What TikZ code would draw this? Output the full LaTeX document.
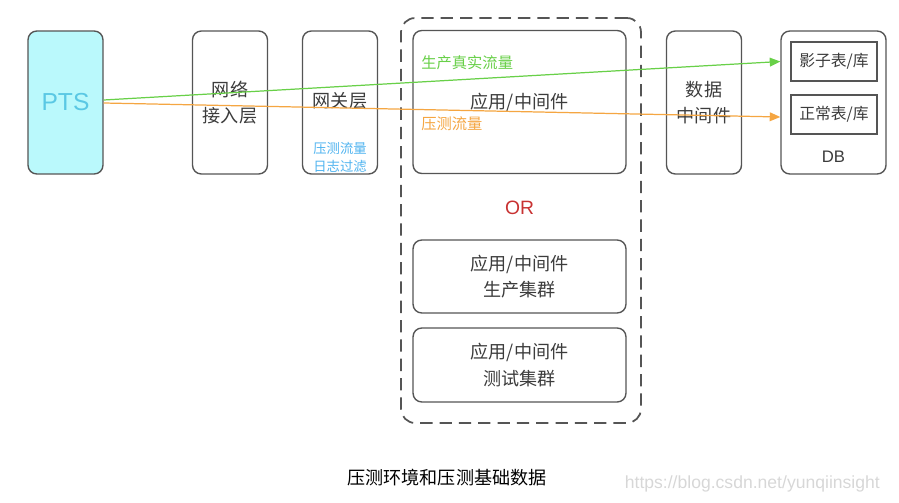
\documentclass[tikz,border=0pt]{standalone}
\usepackage{fontspec}
\setmainfont{Noto Sans CJK SC}
\newfontfamily\latinsans{Liberation Sans}
\usepackage{tikz}
\usetikzlibrary{arrows.meta, positioning, calc}
\definecolor{BoxLine}{RGB}{85, 85, 85}
\definecolor{TextGray}{RGB}{60, 60, 60}
\definecolor{PtsFill}{RGB}{186, 249, 252}
\definecolor{PtsText}{RGB}{90, 200, 228}
\definecolor{TipBlue}{RGB}{80, 180, 240}
\definecolor{RealGreen}{RGB}{104, 208, 72}
\definecolor{TestOrange}{RGB}{245, 166, 66}
\definecolor{OrRed}{RGB}{200, 50, 50}
\definecolor{MarkGray}{RGB}{215, 215, 215}
\tikzset{
  layer/.style={rectangle, rounded corners=5pt, draw=BoxLine, line width=0.8pt,
    fill=white, minimum width=1.5cm, minimum height=2.86cm, align=center,
    font=\fontsize{10.3}{15}\selectfont, text=TextGray, inner sep=0pt},
  appbox/.style={layer, minimum width=4.26cm},
  tablebox/.style={rectangle, draw=BoxLine, line width=0.8pt, fill=white,
    minimum width=1.72cm, minimum height=0.78cm, font=\fontsize{9}{10}\selectfont,
    text=TextGray, inner sep=0pt},
  flow/.style={-{Triangle[length=6pt,width=5pt]}, line width=0.7pt},
  flowlabel/.style={anchor=west, font=\fontsize{8.7}{10}\selectfont, inner sep=0pt},
}
\begin{document}
\begin{tikzpicture}[x=0.02cm, y=-0.02cm]
  \useasboundingbox (0,0) rectangle (899,503);
  % env frame
  \node[draw=BoxLine, line width=1pt, dash pattern=on 7pt off 4pt, rounded corners=8pt,
        minimum width=4.8cm, minimum height=8.1cm, inner sep=0pt] (env) at (521,220.5) {};
  % boxes on the main row
  \node[layer, fill=PtsFill, font=\fontsize{14}{16}\selectfont\latinsans, text=PtsText]
    (pts) at (65.5,102.5) {PTS};
  \node[layer] (access) at (230,102.5) {网络\\接入层};
  \node[layer] (gateway) at (340,102.5) {};
  \node[font=\fontsize{10.3}{12}\selectfont, text=TextGray] (gwname) at (340,101) {网关层};
  \node[font=\fontsize{7.6}{10.5}\selectfont, text=TipBlue, align=center] (gwtip) at (340,157.5)
    {压测流量\\日志过滤};
  \node[appbox] (app) at (519.5,102) {应用/中间件};
  \node[font=\fontsize{11}{13}\selectfont\latinsans, text=OrRed] (or) at (519.5,208) {OR};
  \node[appbox, minimum height=1.46cm] (prod) at (519.5,276.5) {应用/中间件\\生产集群};
  \node[appbox, minimum height=1.48cm] (test) at (519.5,365) {应用/中间件\\测试集群};
  \node[layer] (datamw) at (704,102.5) {数据\\中间件};
  \node[layer, minimum width=2.1cm] (db) at (833.5,102.5) {};
  \node[tablebox] (shadow) at (834,61.5) {影子表/库};
  \node[tablebox] (normal) at (834,114.5) {正常表/库};
  \node[font=\fontsize{9.5}{11}\selectfont\latinsans, text=TextGray] (dbname) at (833.5,157) {DB};
  % traffic
  \draw[flow, RealGreen] ($(pts.east)+(0,-2.5)$) -- (db.west |- shadow.west);
  \draw[flow, TestOrange] ($(pts.east)+(0,0.5)$) -- ($(db.west |- normal.west)+(0,2.5)$);
  \node[flowlabel, text=RealGreen] (reallbl) at (421,63) {生产真实流量};
  \node[flowlabel, text=TestOrange] (testlbl) at (421,124) {压测流量};
  % caption
  \node[font=\fontsize{10.3}{13}\selectfont, text=black] (caption) at (447,478) {压测环境和压测基础数据};
  \node[anchor=east, font=\fontsize{10}{11}\selectfont\latinsans, text=MarkGray] (mark) at (886,484)
    {https://blog.csdn.net/yunqiinsight};
\end{tikzpicture}
\end{document}
